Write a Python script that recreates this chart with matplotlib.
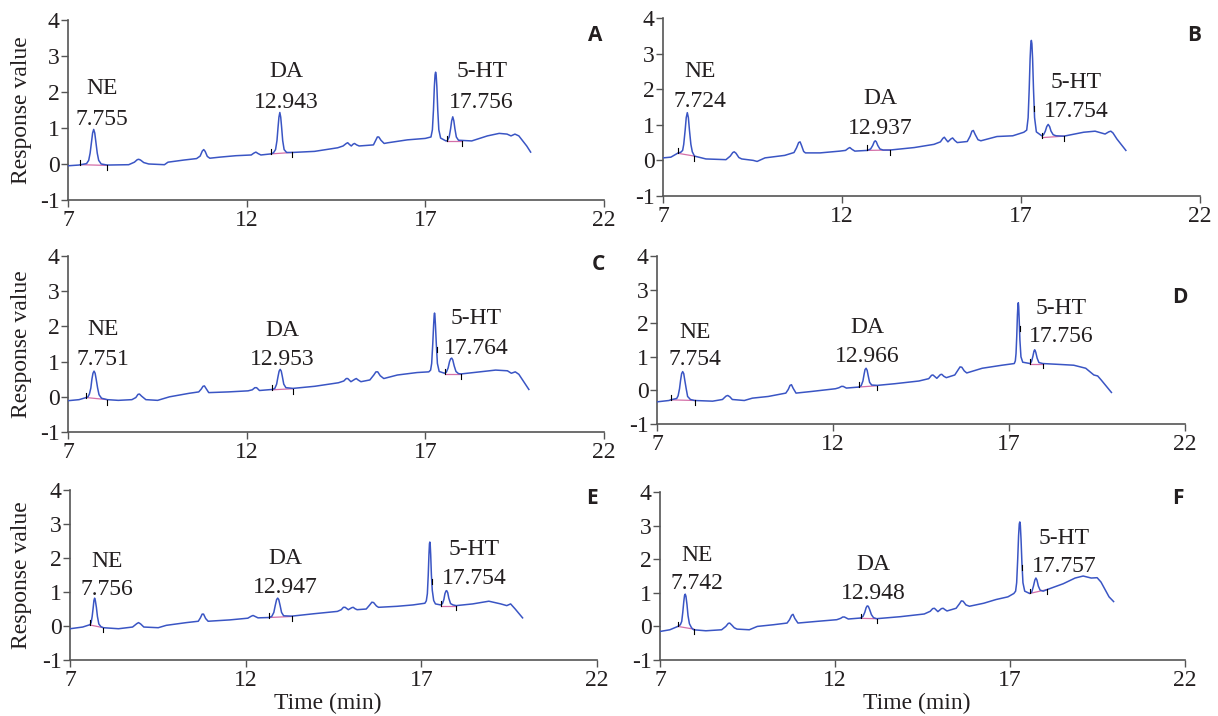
#!/usr/bin/env python3
"""Six HPLC chromatograms (NE, DA, 5-HT) in a 3x2 grid."""

import matplotlib

matplotlib.use("Agg")
import matplotlib.pyplot as plt


# ---- data (time in min, response value) ----
A_TRACE = [
    (7.00, -0.05), (7.30, -0.03), (7.52, 0.01),
    (7.58, 0.10), (7.62, 0.30), (7.66, 0.62), (7.69, 0.86), (7.72, 0.96), (7.75, 0.86), (7.78, 0.62),
    (7.82, 0.30), (7.86, 0.10), (7.93, 0.00),
    (8.10, -0.03), (8.70, -0.02), (8.86, 0.05), (8.94, 0.12), (8.98, 0.13), (9.03, 0.11), (9.12, 0.04),
    (9.26, 0.00), (9.70, -0.02), (9.80, 0.05), (10.25, 0.11), (10.60, 0.15),
    (10.70, 0.22), (10.76, 0.36), (10.80, 0.40), (10.84, 0.35), (10.90, 0.21), (10.97, 0.16),
    (11.25, 0.19), (11.70, 0.23), (12.13, 0.25), (12.20, 0.30), (12.26, 0.33), (12.32, 0.29), (12.40, 0.25),
    (12.68, 0.28),
    (12.75, 0.31), (12.81, 0.40), (12.85, 0.65), (12.88, 1.02), (12.905, 1.30), (12.93, 1.43), (12.955, 1.30),
    (12.98, 1.02), (13.01, 0.65), (13.05, 0.40), (13.12, 0.32),
    (13.28, 0.32), (13.90, 0.35), (14.55, 0.45), (14.70, 0.50), (14.79, 0.57), (14.83, 0.59), (14.88, 0.54),
    (14.93, 0.50), (14.98, 0.55), (15.02, 0.57), (15.08, 0.53), (15.15, 0.50), (15.55, 0.53), (15.61, 0.65),
    (15.66, 0.75), (15.70, 0.75), (15.76, 0.66), (15.85, 0.57), (15.96, 0.59), (16.50, 0.67), (17.00, 0.71),
    (17.16, 0.75), (17.20, 0.95), (17.23, 1.50), (17.255, 2.15), (17.275, 2.48), (17.29, 2.55), (17.305, 2.48),
    (17.325, 2.15), (17.35, 1.50), (17.38, 0.95), (17.43, 0.72),
    (17.58, 0.64),
    (17.62, 0.65), (17.67, 0.75), (17.71, 0.98), (17.74, 1.20), (17.77, 1.31), (17.80, 1.20), (17.83, 0.98),
    (17.87, 0.75), (17.93, 0.66),
    (18.30, 0.64), (18.74, 0.78), (19.07, 0.85), (19.29, 0.83), (19.40, 0.78), (19.51, 0.83), (19.62, 0.78),
    (19.84, 0.50), (19.95, 0.33),
]
B_TRACE = [
    (7.00, 0.07), (7.22, 0.09), (7.41, 0.20), (7.50, 0.23),
    (7.55, 0.28), (7.58, 0.45), (7.62, 0.85), (7.65, 1.20), (7.68, 1.34), (7.71, 1.20), (7.74, 0.85),
    (7.78, 0.45), (7.82, 0.24), (7.88, 0.12),
    (8.20, 0.04), (8.76, 0.02), (8.88, 0.12), (8.95, 0.22), (8.99, 0.24), (9.04, 0.20), (9.12, 0.08),
    (9.20, 0.04), (9.52, 0.00), (9.63, -0.03), (9.85, 0.07), (10.40, 0.14), (10.66, 0.22),
    (10.73, 0.35), (10.79, 0.50), (10.83, 0.52), (10.87, 0.42), (10.93, 0.25), (10.98, 0.21),
    (11.39, 0.21), (11.94, 0.26), (12.10, 0.28), (12.18, 0.34), (12.22, 0.36), (12.28, 0.31), (12.36, 0.26),
    (12.71, 0.28),
    (12.80, 0.32), (12.86, 0.42), (12.90, 0.52), (12.93, 0.55), (12.96, 0.52), (13.00, 0.42), (13.06, 0.32),
    (13.15, 0.29),
    (13.34, 0.29), (14.02, 0.36), (14.57, 0.45), (14.75, 0.52), (14.82, 0.62), (14.86, 0.65), (14.91, 0.58),
    (14.96, 0.52), (15.04, 0.60), (15.09, 0.63), (15.15, 0.56), (15.22, 0.50), (15.50, 0.53), (15.58, 0.68),
    (15.63, 0.82), (15.67, 0.84), (15.72, 0.73), (15.80, 0.58), (15.88, 0.55),
    (16.33, 0.67), (16.77, 0.69), (17.08, 0.79),
    (17.16, 0.85), (17.20, 1.20), (17.23, 2.00), (17.255, 2.85), (17.275, 3.28), (17.29, 3.37), (17.305, 3.28),
    (17.325, 2.85), (17.35, 2.00), (17.38, 1.20), (17.43, 0.80),
    (17.58, 0.69),
    (17.63, 0.72), (17.68, 0.82), (17.72, 0.95), (17.76, 1.01), (17.80, 0.95), (17.84, 0.82), (17.90, 0.72),
    (17.98, 0.69),
    (18.20, 0.68), (18.75, 0.79), (19.07, 0.82), (19.35, 0.74), (19.45, 0.80), (19.51, 0.82), (19.57, 0.77),
    (19.68, 0.60), (19.93, 0.28),
]
C_TRACE = [
    (7.00, -0.11), (7.31, -0.08), (7.51, -0.02), (7.56, 0.00),
    (7.60, 0.08), (7.64, 0.25), (7.67, 0.50), (7.70, 0.67), (7.73, 0.73), (7.76, 0.67), (7.79, 0.50),
    (7.83, 0.25), (7.87, 0.06), (7.94, -0.04),
    (8.10, -0.08), (8.41, -0.10), (8.79, -0.08), (8.90, -0.02), (8.96, 0.07), (9.00, 0.08), (9.06, 0.02),
    (9.18, -0.08), (9.51, -0.10), (9.84, 0.00), (10.39, 0.10), (10.66, 0.14),
    (10.73, 0.22), (10.78, 0.30), (10.82, 0.31), (10.87, 0.23), (10.94, 0.12),
    (11.49, 0.14), (12.04, 0.17), (12.16, 0.20), (12.23, 0.26), (12.28, 0.26), (12.36, 0.18), (12.72, 0.21),
    (12.79, 0.24), (12.84, 0.36), (12.88, 0.58), (12.91, 0.73), (12.94, 0.78), (12.97, 0.73), (13.00, 0.58),
    (13.04, 0.36), (13.10, 0.26),
    (13.30, 0.24), (13.91, 0.30), (14.57, 0.40), (14.72, 0.45), (14.79, 0.52), (14.83, 0.52), (14.92, 0.43),
    (15.03, 0.50), (15.07, 0.52), (15.12, 0.48), (15.20, 0.43), (15.45, 0.48), (15.56, 0.62), (15.62, 0.71),
    (15.67, 0.71), (15.74, 0.60), (15.84, 0.52),
    (16.22, 0.62), (16.77, 0.69), (17.10, 0.71),
    (17.15, 0.76), (17.18, 0.95), (17.21, 1.50), (17.235, 2.05), (17.25, 2.32), (17.26, 2.38), (17.27, 2.32),
    (17.285, 2.05), (17.31, 1.50), (17.34, 0.95), (17.39, 0.72),
    (17.54, 0.67),
    (17.59, 0.70), (17.64, 0.82), (17.68, 1.00), (17.71, 1.08), (17.74, 1.10), (17.77, 1.05), (17.81, 0.88),
    (17.86, 0.72), (17.93, 0.66),
    (18.00, 0.65), (18.53, 0.71), (18.97, 0.76), (19.30, 0.74), (19.41, 0.67), (19.52, 0.71), (19.62, 0.64),
    (19.90, 0.21),
]
D_TRACE = [
    (7.00, -0.34), (7.34, -0.30), (7.39, -0.28), (7.56, -0.24),
    (7.60, -0.16), (7.64, 0.05), (7.67, 0.30), (7.70, 0.50), (7.73, 0.56), (7.76, 0.50), (7.79, 0.30),
    (7.83, 0.05), (7.87, -0.18), (7.95, -0.27),
    (8.07, -0.30), (8.58, -0.32), (8.86, -0.27), (8.96, -0.17), (9.01, -0.15), (9.07, -0.19), (9.14, -0.27),
    (9.48, -0.30), (9.71, -0.23), (10.16, -0.18), (10.66, -0.08),
    (10.73, 0.03), (10.78, 0.15), (10.82, 0.17), (10.87, 0.06), (10.95, -0.08),
    (11.40, -0.03), (12.07, 0.05), (12.17, 0.08), (12.24, 0.12), (12.29, 0.12), (12.38, 0.07), (12.73, 0.10),
    (12.80, 0.14), (12.85, 0.28), (12.88, 0.46), (12.91, 0.62), (12.94, 0.66), (12.97, 0.60), (13.00, 0.44),
    (13.04, 0.24), (13.10, 0.16),
    (13.26, 0.15), (13.76, 0.20), (14.44, 0.28), (14.72, 0.35), (14.80, 0.45), (14.84, 0.46), (14.95, 0.36),
    (15.05, 0.47), (15.09, 0.48), (15.15, 0.42), (15.22, 0.38), (15.46, 0.46), (15.56, 0.62), (15.61, 0.70),
    (15.66, 0.69), (15.73, 0.58), (15.80, 0.52),
    (16.24, 0.66), (16.80, 0.75), (17.15, 0.80),
    (17.18, 0.88), (17.20, 1.10), (17.22, 1.60), (17.24, 2.25), (17.255, 2.55), (17.265, 2.61), (17.275, 2.50),
    (17.29, 2.10), (17.31, 1.50), (17.34, 1.00), (17.39, 0.84),
    (17.60, 0.80),
    (17.64, 0.86), (17.68, 1.02), (17.71, 1.17), (17.73, 1.21), (17.76, 1.14), (17.80, 0.96), (17.85, 0.83),
    (17.96, 0.80),
    (18.50, 0.77), (18.84, 0.75), (19.18, 0.66), (19.41, 0.46), (19.52, 0.43), (19.62, 0.31), (19.91, -0.06),
]
E_TRACE = [
    (7.00, -0.08), (7.36, -0.03), (7.57, 0.04),
    (7.60, 0.10), (7.63, 0.28), (7.66, 0.55), (7.68, 0.75), (7.70, 0.82), (7.72, 0.75), (7.75, 0.55),
    (7.78, 0.28), (7.82, 0.06), (7.88, -0.02),
    (7.95, -0.05), (8.38, -0.08), (8.78, -0.03), (8.90, 0.07), (8.95, 0.10), (9.01, 0.06), (9.10, -0.03),
    (9.51, -0.05), (9.74, 0.02), (10.31, 0.10), (10.65, 0.14),
    (10.71, 0.24), (10.76, 0.35), (10.80, 0.35), (10.86, 0.22), (10.93, 0.14),
    (11.55, 0.18), (12.06, 0.23), (12.16, 0.29), (12.21, 0.31), (12.27, 0.28), (12.35, 0.24), (12.66, 0.25),
    (12.74, 0.28), (12.80, 0.40), (12.84, 0.60), (12.88, 0.78), (12.91, 0.82), (12.94, 0.78), (12.98, 0.60),
    (13.02, 0.40), (13.08, 0.30),
    (13.31, 0.29), (13.93, 0.36), (14.61, 0.43), (14.72, 0.48), (14.78, 0.55), (14.83, 0.55), (14.92, 0.48),
    (15.02, 0.54), (15.06, 0.55), (15.11, 0.51), (15.17, 0.48), (15.43, 0.50), (15.53, 0.62), (15.59, 0.70),
    (15.64, 0.69), (15.72, 0.59), (15.78, 0.55),
    (16.31, 0.58), (16.76, 0.62), (17.10, 0.67),
    (17.14, 0.74), (17.17, 0.95), (17.195, 1.50), (17.215, 2.10), (17.23, 2.42), (17.24, 2.47), (17.25, 2.42),
    (17.265, 2.10), (17.285, 1.50), (17.31, 1.05), (17.35, 0.75), (17.40, 0.65),
    (17.55, 0.62),
    (17.60, 0.66), (17.64, 0.78), (17.67, 0.95), (17.70, 1.03), (17.72, 1.04), (17.75, 0.98), (17.78, 0.82),
    (17.83, 0.66), (17.90, 0.62),
    (17.99, 0.60), (18.46, 0.65), (18.92, 0.73), (19.26, 0.65), (19.43, 0.60), (19.54, 0.65), (19.67, 0.50),
    (19.88, 0.24),
]
F_TRACE = [
    (7.00, -0.15), (7.28, -0.10), (7.51, 0.00), (7.58, 0.05),
    (7.62, 0.15), (7.65, 0.42), (7.68, 0.75), (7.70, 0.92), (7.72, 0.96), (7.74, 0.90), (7.77, 0.65),
    (7.80, 0.32), (7.84, 0.08), (7.90, -0.04),
    (7.96, -0.10), (8.31, -0.13), (8.76, -0.10), (8.88, 0.00), (8.95, 0.09), (8.99, 0.10), (9.05, 0.04),
    (9.12, -0.04), (9.20, -0.08), (9.55, -0.10), (9.78, 0.00), (10.24, 0.05), (10.63, 0.10),
    (10.70, 0.20), (10.76, 0.33), (10.80, 0.36), (10.85, 0.24), (10.94, 0.10),
    (11.48, 0.15), (12.05, 0.20), (12.16, 0.24), (12.22, 0.28), (12.27, 0.28), (12.38, 0.22), (12.73, 0.25),
    (12.80, 0.30), (12.85, 0.42), (12.89, 0.56), (12.92, 0.61), (12.95, 0.60), (12.99, 0.50), (13.04, 0.35),
    (13.10, 0.26),
    (13.19, 0.23), (13.87, 0.29), (14.55, 0.37), (14.72, 0.45), (14.79, 0.53), (14.84, 0.54), (14.94, 0.44),
    (15.04, 0.53), (15.09, 0.54), (15.14, 0.50), (15.20, 0.46), (15.46, 0.54), (15.56, 0.68), (15.61, 0.76),
    (15.66, 0.75), (15.74, 0.64), (15.84, 0.60),
    (16.25, 0.69), (16.60, 0.80), (16.94, 0.88), (17.11, 0.98),
    (17.16, 1.05), (17.19, 1.30), (17.22, 2.00), (17.245, 2.70), (17.265, 3.05), (17.28, 3.11), (17.295, 3.02),
    (17.315, 2.60), (17.34, 1.90), (17.37, 1.30), (17.42, 1.05),
    (17.56, 0.98),
    (17.62, 1.02), (17.67, 1.20), (17.71, 1.38), (17.74, 1.44), (17.77, 1.38), (17.81, 1.20), (17.86, 1.08),
    (17.95, 1.05),
    (18.07, 1.10), (18.52, 1.27), (18.86, 1.44), (19.09, 1.50), (19.32, 1.44), (19.49, 1.45), (19.60, 1.32),
    (19.83, 0.88), (19.96, 0.74),
]

# integration limits (start, end) for NE, DA, 5-HT
A_LIMITS = [((7.35, -0.02), (8.10, -0.04)), ((12.68, 0.28), (13.28, 0.32)), ((17.62, 0.64), (18.03, 0.64))]
B_LIMITS = [((7.41, 0.20), (7.88, 0.12)), ((12.71, 0.28), (13.34, 0.29)), ((17.60, 0.64), (18.20, 0.68))]
C_LIMITS = [((7.51, -0.02), (8.10, -0.08)), ((12.72, 0.20), (13.30, 0.23)), ((17.56, 0.66), (18.00, 0.66))]
D_LIMITS = [((7.39, -0.28), (8.07, -0.30)), ((12.73, 0.10), (13.26, 0.14)), ((17.60, 0.80), (17.96, 0.80))]
E_LIMITS = [((7.57, 0.03), (7.95, -0.05)), ((12.66, 0.25), (13.31, 0.28)), ((17.55, 0.60), (17.99, 0.60))]
F_LIMITS = [((7.51, 0.00), (7.96, -0.08)), ((12.73, 0.24), (13.19, 0.23)), ((17.56, 0.98), (18.07, 1.10))]

# small integration mark on the tail of the large peak near 17.3 min
A_FLANK = []
B_FLANK = [(17.37, 1.45)]
C_FLANK = [(17.32, 1.35)]
D_FLANK = [(17.30, 1.85)]
E_FLANK = [(17.29, 1.30)]
F_FLANK = [(17.35, 1.75)]

COMPOUNDS = ["NE", "DA", "5-HT"]
A_RT = ["7.755", "12.943", "17.756"]
B_RT = ["7.724", "12.937", "17.754"]
C_RT = ["7.751", "12.953", "17.764"]
D_RT = ["7.754", "12.966", "17.756"]
E_RT = ["7.756", "12.947", "17.754"]
F_RT = ["7.742", "12.948", "17.757"]

X_TICKS = [7, 12, 17, 22]
Y_TICKS = [-1, 0, 1, 2, 3, 4]

# label anchors: (x, name baseline, rt baseline) for each compound
A_LABEL_POS = [(7.96, 1.93, 1.07), (13.10, 2.41, 1.55), (18.58, 2.41, 1.55)]
B_LABEL_POS = [(8.04, 2.33, 1.49), (13.06, 1.59, 0.74), (18.55, 2.04, 1.22)]
C_LABEL_POS = [(7.99, 1.76, 0.90), (13.00, 1.73, 0.90), (18.43, 2.08, 1.22)]
D_LABEL_POS = [(8.07, 1.57, 0.75), (12.98, 1.70, 0.85), (18.48, 2.27, 1.44)]
E_LABEL_POS = [(8.06, 1.74, 0.91), (13.14, 1.82, 0.97), (18.50, 2.08, 1.25)]
F_LABEL_POS = [(8.06, 1.96, 1.11), (13.10, 1.67, 0.81), (18.54, 2.45, 1.62)]

SERIF = ["Liberation Serif", "DejaVu Serif"]
INK = "#231f20"
TRACE_BLUE = "#3a55c4"
BASE_PINK = "#d46fa8"


def draw_panel(ax, trace, limits, flank, rts, label_pos):
    t = [p[0] for p in trace]
    r = [p[1] for p in trace]
    ax.plot(t, r, color=TRACE_BLUE, lw=1.1, solid_joinstyle="round", zorder=3)

    for (t0, r0), (t1, r1) in limits:
        ax.plot([t0, t1], [r0, r1], color=BASE_PINK, lw=0.9, zorder=2)
        ax.plot([t0, t0], [r0, r0 + 0.14], color="black", lw=0.8, zorder=4)
        ax.plot([t1, t1], [r1 - 0.14, r1], color="black", lw=0.8, zorder=4)
    for tf, rf in flank:
        ax.plot([tf, tf], [rf - 0.07, rf + 0.07], color="black", lw=0.8, zorder=4)

    for name, rt, (x, y_name, y_rt) in zip(COMPOUNDS, rts, label_pos):
        ax.text(x, y_name, name, ha="center", va="baseline", fontsize=17, family=SERIF, color=INK)
        ax.text(x, y_rt, rt, ha="center", va="baseline", fontsize=17, family=SERIF, color=INK)

    ax.set_xlim(7, 22)
    ax.set_ylim(-1, 4)
    ax.set_xticks(X_TICKS)
    ax.set_yticks(Y_TICKS)
    ax.spines["top"].set_visible(False)
    ax.spines["right"].set_visible(False)
    for side in ("left", "bottom"):
        ax.spines[side].set_color("#555555")
        ax.spines[side].set_linewidth(1.2)
    ax.tick_params(length=5, width=1.0, color="#555555", labelcolor=INK, labelsize=17)
    ax.tick_params(axis="x", pad=2)
    ax.tick_params(axis="y", pad=1)
    for lab in ax.get_xticklabels() + ax.get_yticklabels():
        lab.set_family(SERIF)
    ax.patch.set_visible(False)


def main():
    plt.rcParams["axes.unicode_minus"] = False
    fig = plt.figure(figsize=(12.18, 7.16), dpi=100)
    fig.set_facecolor("white")

    panels = [
        ("A", [0.0558, 0.7207, 0.4400, 0.2514], A_TRACE, A_LIMITS, A_FLANK, A_RT, A_LABEL_POS, (0.489, 0.951)),
        ("B", [0.5443, 0.7263, 0.4409, 0.2486], B_TRACE, B_LIMITS, B_FLANK, B_RT, B_LABEL_POS, (0.980, 0.951)),
        ("C", [0.0558, 0.3966, 0.4400, 0.2458], C_TRACE, C_LIMITS, C_FLANK, C_RT, C_LABEL_POS, (0.491, 0.630)),
        ("D", [0.5394, 0.4078, 0.4335, 0.2346], D_TRACE, D_LIMITS, D_FLANK, D_RT, D_LABEL_POS, (0.969, 0.584)),
        ("E", [0.0575, 0.0782, 0.4327, 0.2374], E_TRACE, E_LIMITS, E_FLANK, E_RT, E_LABEL_POS, (0.486, 0.304)),
        ("F", [0.5419, 0.0782, 0.4310, 0.2346], F_TRACE, F_LIMITS, F_FLANK, F_RT, F_LABEL_POS, (0.967, 0.304)),
    ]
    axes = []
    for letter, rect, trace, limits, flank, rts, label_pos, letter_xy in panels:
        ax = fig.add_axes(rect)
        draw_panel(ax, trace, limits, flank, rts, label_pos)
        fig.text(letter_xy[0], letter_xy[1], letter, ha="center", va="center", fontsize=15,
                 fontweight="bold", family=["Open Sans", "DejaVu Sans"], color=INK)
        axes.append(ax)

    for ax in axes[0::2]:
        box = ax.get_position()
        fig.text(0.018, box.y0 + box.height * 0.5, "Response value", rotation=90, ha="center", va="center",
                 fontsize=17, family=SERIF, color=INK)
    for ax in axes[4:]:
        box = ax.get_position()
        fig.text(box.x0 + box.width * 0.5 - 0.005, 0.018, "Time (min)", ha="center", va="center",
                 fontsize=17, family=SERIF, color=INK)

    fig.savefig("out.png", dpi=100, facecolor="white")
    plt.close(fig)


if __name__ == "__main__":
    main()
